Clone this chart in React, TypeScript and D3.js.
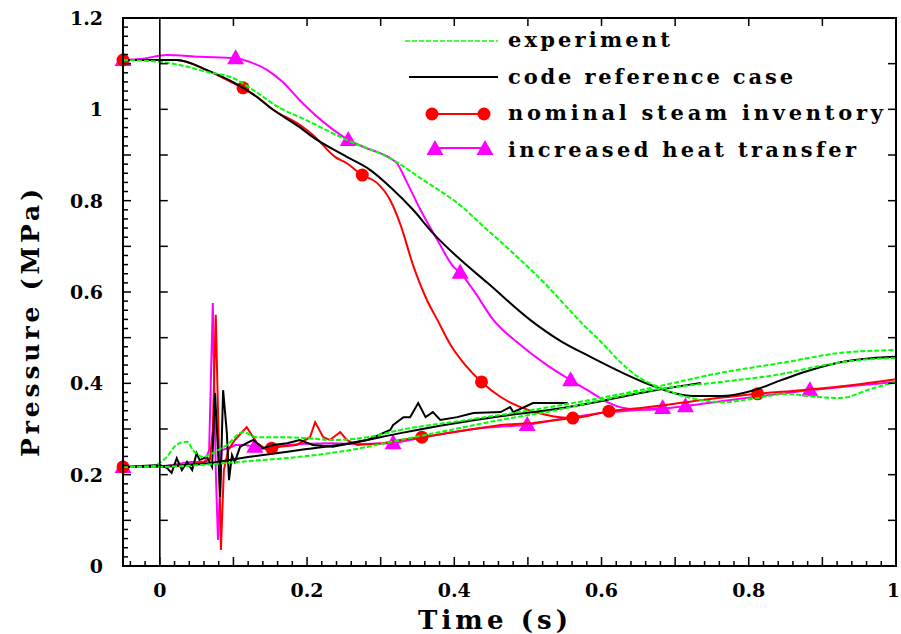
import React from "react";
import * as d3 from "d3";

type Pt = [number, number];

// ---- data (time s, pressure MPa) ----
const expUpper: Pt[] = [
  [-0.05, 1.108], [0, 1.104], [0.027, 1.097], [0.064, 1.082], [0.099, 1.069], [0.127, 1.042],
  [0.163, 1.003], [0.19, 0.983], [0.254, 0.933], [0.317, 0.889], [0.358, 0.845], [0.404, 0.795],
  [0.445, 0.736], [0.48, 0.685], [0.527, 0.612], [0.554, 0.565], [0.576, 0.527], [0.6, 0.49],
  [0.622, 0.452], [0.649, 0.415], [0.68, 0.39], [0.721, 0.368], [0.766, 0.359], [0.812, 0.368],
  [0.848, 0.377], [0.894, 0.37], [0.925, 0.368], [0.966, 0.388], [1.0, 0.403],
];
const expLowerA: Pt[] = [
  [-0.05, 0.217], [-0.007, 0.219], [0, 0.226], [0.0095, 0.239], [0.02, 0.261], [0.027, 0.269],
  [0.037, 0.272], [0.045, 0.254], [0.059, 0.239], [0.075, 0.25], [0.091, 0.265], [0.113, 0.293],
  [0.132, 0.282], [0.167, 0.282], [0.2, 0.28], [0.235, 0.276], [0.282, 0.282], [0.327, 0.298],
  [0.418, 0.32], [0.507, 0.342], [0.599, 0.368], [0.667, 0.39], [0.762, 0.423], [0.853, 0.447],
  [0.921, 0.466], [1.0, 0.473],
];
const expLowerB: Pt[] = [
  [-0.05, 0.217], [-0.004, 0.217], [0.054, 0.221], [0.122, 0.23], [0.19, 0.239], [0.259, 0.254],
  [0.327, 0.276], [0.395, 0.298], [0.463, 0.32], [0.531, 0.339], [0.599, 0.363], [0.667, 0.385],
  [0.762, 0.403], [0.853, 0.423], [0.884, 0.434], [0.966, 0.453], [1.0, 0.455],
];
const codeUpper: Pt[] = [
  [-0.05, 1.108], [0.023, 1.108], [0.064, 1.086], [0.099, 1.06], [0.132, 1.027], [0.154, 0.999],
  [0.19, 0.961], [0.208, 0.939], [0.254, 0.896], [0.286, 0.867], [0.313, 0.83], [0.344, 0.78],
  [0.371, 0.729], [0.404, 0.677], [0.445, 0.62], [0.503, 0.539], [0.544, 0.493], [0.585, 0.458],
  [0.63, 0.422], [0.667, 0.396], [0.698, 0.379], [0.731, 0.372], [0.762, 0.372], [0.807, 0.385],
  [0.844, 0.407], [0.88, 0.427], [0.921, 0.445], [0.966, 0.455], [1.0, 0.458],
];
const codeLowerNoisy: Pt[] = [
  [-0.05, 0.217], [0, 0.221], [0.0095, 0.215], [0.016, 0.204], [0.023, 0.236], [0.03, 0.21],
  [0.037, 0.228], [0.044, 0.21], [0.05, 0.247], [0.054, 0.232], [0.064, 0.239], [0.071, 0.217],
  [0.075, 0.379], [0.078, 0.287], [0.082, 0.151], [0.086, 0.385], [0.091, 0.293], [0.094, 0.188],
  [0.098, 0.243], [0.102, 0.228], [0.109, 0.261], [0.118, 0.269], [0.127, 0.276], [0.14, 0.258],
  [0.154, 0.265], [0.173, 0.269], [0.19, 0.276], [0.208, 0.265], [0.235, 0.261], [0.282, 0.276],
  [0.313, 0.298], [0.317, 0.309], [0.331, 0.326], [0.34, 0.326], [0.351, 0.357], [0.361, 0.326],
  [0.371, 0.337], [0.381, 0.32], [0.404, 0.326], [0.426, 0.335], [0.463, 0.337], [0.476, 0.348],
  [0.48, 0.337], [0.507, 0.357], [0.554, 0.357],
];
const codeLowerSmooth: Pt[] = [
  [-0.05, 0.217], [0, 0.219], [0.054, 0.223], [0.122, 0.239], [0.19, 0.254], [0.259, 0.269],
  [0.327, 0.291], [0.395, 0.311], [0.463, 0.328], [0.531, 0.342], [0.599, 0.361], [0.667, 0.383],
  [0.735, 0.401],
];
const nomUpper: Pt[] = [
  [-0.05, 1.108], [0.023, 1.108], [0.064, 1.086], [0.099, 1.058], [0.113, 1.047], [0.132, 1.027],
  [0.154, 0.999], [0.19, 0.966], [0.208, 0.944], [0.238, 0.896], [0.254, 0.882], [0.275, 0.856],
  [0.295, 0.839], [0.313, 0.801], [0.327, 0.747], [0.344, 0.659], [0.363, 0.582], [0.377, 0.539],
  [0.395, 0.484], [0.415, 0.44], [0.437, 0.403], [0.463, 0.37], [0.49, 0.348], [0.524, 0.331],
  [0.561, 0.324], [0.61, 0.339], [0.653, 0.346], [0.735, 0.363], [0.812, 0.377], [0.871, 0.385],
  [0.939, 0.396], [1.0, 0.409],
];
const nomLower: Pt[] = [
  [-0.05, 0.217], [0, 0.217], [0.027, 0.219], [0.054, 0.226], [0.068, 0.232], [0.072, 0.298],
  [0.076, 0.55], [0.08, 0.276], [0.083, 0.035], [0.087, 0.21], [0.093, 0.254], [0.102, 0.276],
  [0.118, 0.304], [0.132, 0.269], [0.146, 0.254], [0.163, 0.261], [0.186, 0.265], [0.204, 0.282],
  [0.211, 0.315], [0.222, 0.282], [0.231, 0.276], [0.245, 0.293], [0.254, 0.276], [0.268, 0.265],
  [0.303, 0.269], [0.327, 0.276], [0.356, 0.282], [0.418, 0.298], [0.463, 0.309], [0.507, 0.313],
  [0.561, 0.324],
];
const nomMarkers: Pt[] = [
  [-0.05, 1.108], [0.113, 1.047], [0.275, 0.856], [0.437, 0.403], [0.61, 0.339], [0.812, 0.377],
  [-0.05, 0.217], [0.152, 0.258], [0.356, 0.282], [0.561, 0.324],
];
const incUpper: Pt[] = [
  [-0.05, 1.108], [-0.027, 1.11], [0.0095, 1.119], [0.054, 1.115], [0.103, 1.112], [0.122, 1.104],
  [0.146, 1.086], [0.167, 1.06], [0.19, 1.02], [0.231, 0.961], [0.256, 0.933], [0.276, 0.918],
  [0.313, 0.893], [0.322, 0.882], [0.336, 0.839], [0.354, 0.78], [0.377, 0.714], [0.399, 0.655],
  [0.408, 0.642], [0.426, 0.604], [0.453, 0.539], [0.49, 0.484], [0.524, 0.442], [0.558, 0.407],
  [0.581, 0.385], [0.608, 0.359], [0.63, 0.346], [0.653, 0.342], [0.68, 0.344], [0.714, 0.35],
  [0.762, 0.361], [0.816, 0.372], [0.883, 0.385], [0.939, 0.394], [1.0, 0.403],
];
const incLower: Pt[] = [
  [-0.05, 0.217], [0, 0.217], [0.041, 0.228], [0.061, 0.228], [0.067, 0.254], [0.072, 0.576],
  [0.076, 0.21], [0.079, 0.057], [0.084, 0.254], [0.093, 0.258], [0.103, 0.265], [0.116, 0.265],
  [0.129, 0.261], [0.139, 0.256], [0.163, 0.263], [0.19, 0.267], [0.231, 0.269], [0.272, 0.267],
  [0.317, 0.269], [0.354, 0.28], [0.39, 0.291], [0.435, 0.302], [0.499, 0.309], [0.544, 0.322],
  [0.599, 0.335], [0.653, 0.342], [0.68, 0.346],
];
const incMarkers: Pt[] = [
  [-0.05, 1.108], [0.103, 1.112], [0.256, 0.933], [0.408, 0.642], [0.558, 0.407], [0.714, 0.35],
  [0.883, 0.385], [-0.05, 0.217], [0.129, 0.261], [0.317, 0.269], [0.499, 0.309], [0.683, 0.346],
];

const xTickValues = [0, 0.2, 0.4, 0.6, 0.8, 1];
const xTickLabels = ["0", "0.2", "0.4", "0.6", "0.8", "1"];
const yTickValues = [0, 0.2, 0.4, 0.6, 0.8, 1, 1.2];
const yTickLabels = ["0", "0.2", "0.4", "0.6", "0.8", "1", "1.2"];
const legendLabels = ["experiment", "code reference case", "nominal steam inventory", "increased heat transfer"];

const GREEN = "#00ff00";
const RED = "#ff0000";
const MAGENTA = "#ff00ff";
const TRI = "M0,-9L8.5,6L-8.5,6Z";
const FONT = "'DejaVu Serif', serif";

export default function App() {
  const x = d3.scaleLinear().domain([-0.05, 1]).range([123, 896]);
  const y = d3.scaleLinear().domain([0, 1.2]).range([566, 18]);
  const line = d3
    .line<Pt>()
    .x((d) => x(d[0]))
    .y((d) => y(d[1]))
    .curve(d3.curveMonotoneX);
  const lin = d3
    .line<Pt>()
    .x((d) => x(d[0]))
    .y((d) => y(d[1]));

  const left = x(-0.05), right = x(1), top = y(1.2), bottom = y(0), zero = x(0);

  const bottomTicks = d3.range(-2, 51).map((i) => ({ v: i * 0.02, major: i % 5 === 0 }));
  const leftTicks = d3.range(0, 61).map((i) => ({ v: i * 0.02, major: i % 5 === 0 }));
  const tenthsY = d3.range(0, 13).map((i) => i * 0.1);
  const tenthsX = d3.range(1, 10).map((i) => i * 0.1);

  const sw = 2;
  return (
    <svg width={901} height={634} style={{ position: "absolute", left: 0, top: 0, background: "#fff" }}>
      <rect x={0} y={0} width={901} height={634} fill="#fff" />
      {/* series: magenta */}
      <path d={line(incUpper) || ""} fill="none" stroke={MAGENTA} strokeWidth={sw} />
      <path d={lin(incLower) || ""} fill="none" stroke={MAGENTA} strokeWidth={sw} />
      {incMarkers.map((d, i) => (
        <path key={"im" + i} d={TRI} transform={`translate(${x(d[0])},${y(d[1])})`} fill={MAGENTA} />
      ))}
      {/* red */}
      <path d={line(nomUpper) || ""} fill="none" stroke={RED} strokeWidth={sw} />
      <path d={lin(nomLower) || ""} fill="none" stroke={RED} strokeWidth={sw} />
      {nomMarkers.map((d, i) => (
        <circle key={"nm" + i} cx={x(d[0])} cy={y(d[1])} r={6.5} fill={RED} />
      ))}
      {/* black */}
      <path d={line(codeUpper) || ""} fill="none" stroke="#000" strokeWidth={sw} />
      <path d={lin(codeLowerNoisy) || ""} fill="none" stroke="#000" strokeWidth={sw} />
      <path d={line(codeLowerSmooth) || ""} fill="none" stroke="#000" strokeWidth={sw} />
      {/* green */}
      <path d={line(expUpper) || ""} fill="none" stroke={GREEN} strokeWidth={sw} strokeDasharray="5 2" />
      <path d={line(expLowerA) || ""} fill="none" stroke={GREEN} strokeWidth={sw} strokeDasharray="5 2" />
      <path d={line(expLowerB) || ""} fill="none" stroke={GREEN} strokeWidth={sw} strokeDasharray="5 2" />

      {/* frame */}
      <rect x={left} y={top} width={right - left} height={bottom - top} fill="none" stroke="#000" strokeWidth={2} />
      <line x1={zero} x2={zero} y1={top} y2={bottom} stroke="#000" strokeWidth={1.6} />

      {/* ticks */}
      {bottomTicks.map((t, i) => (
        <line key={"bt" + i} x1={x(t.v)} x2={x(t.v)} y1={bottom} y2={bottom - (t.major ? 9 : 5)} stroke="#000" strokeWidth={1.5} />
      ))}
      {leftTicks.map((t, i) => (
        <line key={"lt" + i} x1={left} x2={left + (t.major ? 8 : 5)} y1={y(t.v)} y2={y(t.v)} stroke="#000" strokeWidth={1.5} />
      ))}
      {tenthsY.map((v, i) => (
        <g key={"ty" + i}>
          <line x1={zero} x2={zero + 8} y1={y(v)} y2={y(v)} stroke="#000" strokeWidth={1.5} />
          <line x1={right} x2={right - 8} y1={y(v)} y2={y(v)} stroke="#000" strokeWidth={1.5} />
        </g>
      ))}
      {tenthsX.map((v, i) => (
        <line key={"tx" + i} x1={x(v)} x2={x(v)} y1={top} y2={top + 8} stroke="#000" strokeWidth={1.5} />
      ))}

      {/* tick labels */}
      {xTickValues.map((v, i) => {
        const last = i === xTickValues.length - 1;
        return (
          <text
            key={"xl" + i}
            x={last ? 900 : x(v)}
            y={597}
            textAnchor={last ? "end" : "middle"}
            fontFamily={FONT}
            fontWeight="bold"
            fontSize={19}
          >
            {xTickLabels[i]}
          </text>
        );
      })}
      {yTickValues.map((v, i) => (
        <text key={"yl" + i} x={103} y={y(v) + 7} textAnchor="end" fontFamily={FONT} fontWeight="bold" fontSize={19}>
          {yTickLabels[i]}
        </text>
      ))}

      {/* axis titles */}
      <text x={418} y={629} fontFamily={FONT} fontWeight="bold" fontSize={26} textLength={150} lengthAdjust="spacing">
        Time  (s)
      </text>
      <text
        transform="translate(39,457) rotate(-90)"
        fontFamily={FONT}
        fontWeight="bold"
        fontSize={25}
        textLength={268}
        lengthAdjust="spacing"
      >
        Pressure (MPa)
      </text>

      {/* legend */}
      <line x1={405} x2={498} y1={41} y2={41} stroke={GREEN} strokeWidth={1.6} strokeDasharray="5 2" />
      <line x1={409} x2={498} y1={77} y2={77} stroke="#000" strokeWidth={2} />
      <line x1={432} x2={484} y1={114} y2={114} stroke={RED} strokeWidth={2} />
      <circle cx={432} cy={114} r={6.5} fill={RED} />
      <circle cx={484} cy={114} r={6.5} fill={RED} />
      <line x1={435} x2={485} y1={148} y2={148} stroke={MAGENTA} strokeWidth={2} />
      <path d={TRI} transform="translate(435,149)" fill={MAGENTA} />
      <path d={TRI} transform="translate(485,149)" fill={MAGENTA} />
      {legendLabels.map((s, i) => (
        <text
          key={"lg" + i}
          x={508}
          y={[47, 84, 120, 157][i]}
          fontFamily={FONT}
          fontWeight="bold"
          fontSize={21}
          textLength={[162, 285, 375, 348][i]}
          lengthAdjust="spacing"
        >
          {s}
        </text>
      ))}
    </svg>
  );
}
